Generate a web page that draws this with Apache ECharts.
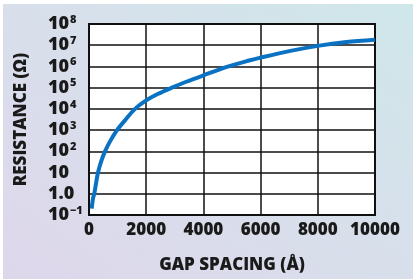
<!DOCTYPE html>
<html>
<head>
<meta charset="utf-8">
<script src="https://cdn.jsdelivr.net/npm/echarts@6/dist/echarts.min.js"></script>
<style>
    html, body {
        margin: 0;
        padding: 0;
        background: #fff;
    }
    .wrap {
        position: relative;
        width: 413px;
        height: 279px;
    }
    .panel {
        position: absolute;
        left: 3px;
        top: 4px;
        right: 0;
        bottom: 0;
        background: linear-gradient(to top right, #ded7eb, #d8dfeb 50%, #cfe7ea);
    }
    .chart {
        position: absolute;
        left: 0;
        top: 0;
        width: 413px;
        height: 279px;
    }
</style>
</head>
<body>
<div class="wrap">
    <div class="panel"></div>
    <div class="chart" id="chart"></div>
</div>
<script>
// gap spacing (Å) and resistance (Ω)
const gapSpacing = [95, 120, 150, 185, 240, 315, 420, 560, 750, 980, 1250, 1610, 2000, 2400, 2900, 3400, 4000, 4820, 5600, 6000, 7000, 8000, 9000, 10000]
const resistance = [0.2, 0.4, 0.7, 1, 2.8, 10, 32, 100, 320, 1000, 2800, 10000, 25000, 50000, 100000, 190000, 380000, 950000, 1900000, 2600000, 5250000, 9300000, 14100000, 18200000]

const xTicks = [0, 2000, 4000, 6000, 8000, 10000]
const yExponents = [-1, 0, 1, 2, 3, 4, 5, 6, 7, 8]

const chartDom = document.getElementById('chart')
const myChart = echarts.init(chartDom, null, { renderer: 'canvas' })

function yLabel(value) {
    let e = Math.round(Math.log10(value))
    if (yExponents.indexOf(e) < 0) return ''
    if (e === 0) return '{b|1.0}'
    if (e === 1) return '{b|10}'
    if (e === -1) return '{b|10}{s|−1}'
    return '{b|10}{s|' + e + '}'
}

const font = '"Open Sans", "DejaVu Sans", sans-serif'

let option = {
    animation: false,
    grid: {
        left: 89,
        top: 24,
        right: 38,
        bottom: 54,
        show: true,
        backgroundColor: '#fff',
        borderColor: '#111',
        borderWidth: 2
    },
    xAxis: {
        type: 'value',
        min: xTicks[0],
        max: xTicks[xTicks.length - 1],
        interval: 2000,
        name: 'GAP SPACING (Å)',
        nameLocation: 'middle',
        nameGap: 42,
        nameTextStyle: {
            fontFamily: font,
            fontWeight: 800,
            fontSize: 17,
            color: '#1a1a1a'
        },
        axisLine: { show: false },
        axisTick: { show: false },
        axisLabel: {
            margin: 7,
            fontFamily: font,
            fontWeight: 800,
            fontSize: 17,
            color: '#1a1a1a',
            formatter: v => String(v)
        },
        splitLine: {
            show: true,
            lineStyle: { color: '#111', width: 1.5 }
        }
    },
    yAxis: {
        type: 'log',
        logBase: 10,
        min: 0.1,
        max: 100000000,
        name: 'RESISTANCE (Ω)',
        nameLocation: 'middle',
        nameRotate: 90,
        nameGap: 59,
        nameTextStyle: {
            fontFamily: font,
            fontWeight: 800,
            fontSize: 17,
            color: '#1a1a1a'
        },
        axisLine: { show: false },
        axisTick: { show: false },
        axisLabel: {
            margin: 41,
            align: 'left',
            formatter: yLabel,
            rich: {
                b: {
                    fontFamily: font,
                    fontWeight: 800,
                    fontSize: 18,
                    color: '#1a1a1a'
                },
                s: {
                    fontFamily: font,
                    fontWeight: 800,
                    fontSize: 11,
                    color: '#1a1a1a',
                    verticalAlign: 'bottom',
                    padding: [0, 0, 9, 1]
                }
            }
        },
        splitLine: {
            show: true,
            lineStyle: { color: '#111', width: 1.5 }
        }
    },
    series: [
        {
            type: 'line',
            data: gapSpacing.map((g, i) => [g, resistance[i]]),
            smooth: 0.3,
            symbol: 'none',
            lineStyle: { color: '#0a72c2', width: 4 },
            z: 5
        }
    ]
}

option && myChart.setOption(option)
</script>
</body>
</html>
